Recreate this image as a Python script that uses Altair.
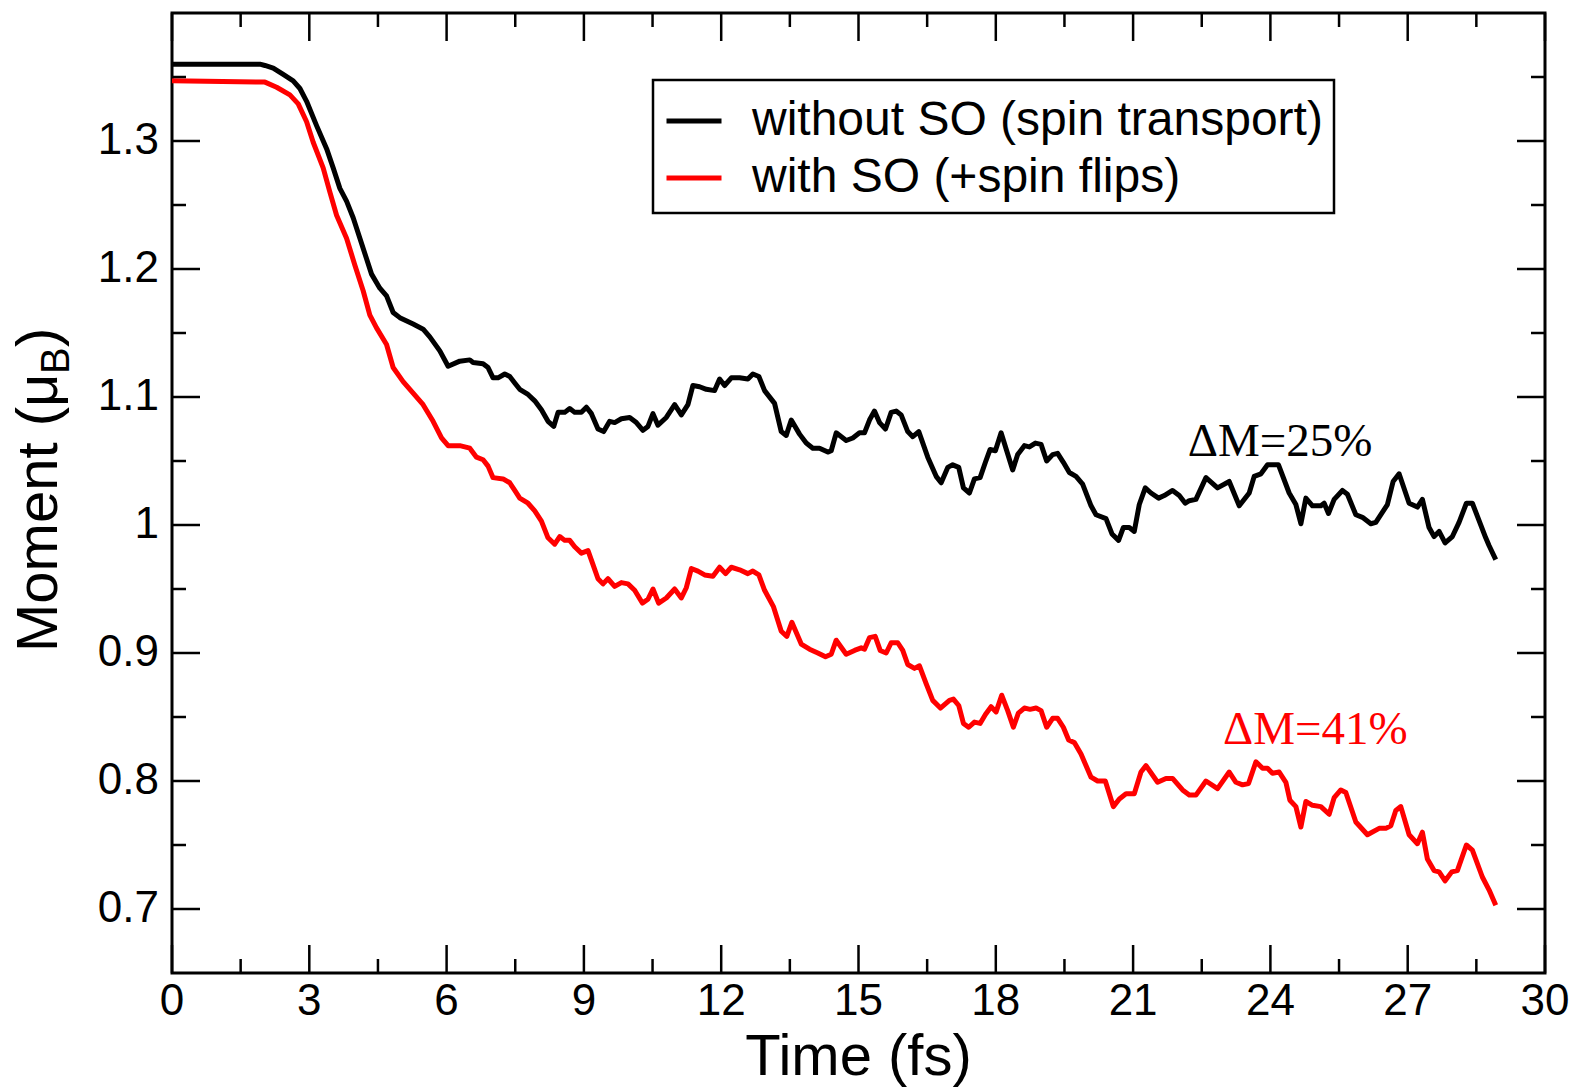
import altair as alt
import pandas as pd

series_names = ["without SO (spin transport)", "with SO (+spin flips)"]
series_colors = ["#000000", "#ff0000"]

black_t = [0, 1.921, 2.031, 2.212, 2.430, 2.648, 2.795, 2.941, 3.159, 3.378,
           3.522, 3.668, 3.814, 3.959, 4.105, 4.251, 4.360, 4.541, 4.688, 4.832,
           4.978, 5.269, 5.487, 5.633, 5.852, 6.033, 6.288, 6.507, 6.579, 6.797,
           6.906, 7.015, 7.124, 7.271, 7.380, 7.489, 7.598, 7.779, 7.926, 8.072,
           8.216, 8.341, 8.435, 8.581, 8.690, 8.799, 8.945, 9.055, 9.164, 9.308,
           9.432, 9.563, 9.672, 9.819, 10.000, 10.146, 10.290, 10.400, 10.509, 10.618,
           10.801, 10.983, 11.129, 11.273, 11.382, 11.528, 11.675, 11.856, 11.965, 12.074,
           12.221, 12.402, 12.583, 12.692, 12.823, 12.948, 13.166, 13.312, 13.421, 13.531,
           13.712, 13.858, 14.002, 14.148, 14.330, 14.404, 14.513, 14.731, 14.876, 15.022,
           15.131, 15.240, 15.349, 15.459, 15.590, 15.714, 15.823, 15.932, 16.076, 16.186,
           16.317, 16.513, 16.697, 16.806, 16.950, 17.059, 17.190, 17.293, 17.424, 17.533,
           17.657, 17.773, 17.876, 17.991, 18.116, 18.238, 18.369, 18.478, 18.624, 18.734,
           18.865, 18.989, 19.111, 19.242, 19.351, 19.476, 19.607, 19.753, 19.897, 20.081,
           20.190, 20.408, 20.539, 20.683, 20.786, 20.917, 21.026, 21.135, 21.266, 21.391,
           21.557, 21.681, 21.862, 22.009, 22.140, 22.227, 22.373, 22.592, 22.845, 23.100,
           23.319, 23.537, 23.646, 23.793, 23.937, 24.177, 24.410, 24.557, 24.666, 24.775,
           24.919, 25.103, 25.175, 25.269, 25.393, 25.574, 25.683, 25.867, 26.011, 26.194,
           26.303, 26.557, 26.681, 26.812, 27.031, 27.212, 27.321, 27.467, 27.576, 27.686,
           27.817, 27.976, 28.122, 28.282, 28.413, 28.705, 28.777, 28.924]
black_m = [1.360, 1.360, 1.359, 1.357, 1.352, 1.347, 1.341, 1.331, 1.312, 1.294,
           1.279, 1.263, 1.253, 1.240, 1.224, 1.208, 1.196, 1.185, 1.179, 1.166,
           1.162, 1.157, 1.153, 1.147, 1.136, 1.124, 1.128, 1.129, 1.127, 1.126,
           1.123, 1.115, 1.115, 1.118, 1.116, 1.111, 1.106, 1.102, 1.097, 1.090,
           1.081, 1.077, 1.088, 1.088, 1.091, 1.088, 1.088, 1.092, 1.087, 1.075,
           1.073, 1.081, 1.080, 1.083, 1.084, 1.080, 1.074, 1.077, 1.087, 1.078,
           1.084, 1.094, 1.086, 1.094, 1.109, 1.108, 1.106, 1.105, 1.114, 1.109,
           1.115, 1.115, 1.114, 1.118, 1.116, 1.105, 1.095, 1.073, 1.070, 1.082,
           1.071, 1.064, 1.060, 1.060, 1.057, 1.058, 1.072, 1.066, 1.068, 1.072,
           1.072, 1.082, 1.089, 1.080, 1.075, 1.088, 1.089, 1.086, 1.073, 1.069,
           1.073, 1.053, 1.038, 1.033, 1.045, 1.047, 1.045, 1.029, 1.025, 1.036,
           1.037, 1.049, 1.059, 1.058, 1.072, 1.058, 1.043, 1.055, 1.062, 1.061,
           1.064, 1.063, 1.050, 1.055, 1.056, 1.049, 1.041, 1.038, 1.032, 1.015,
           1.008, 1.005, 0.993, 0.988, 0.998, 0.998, 0.995, 1.016, 1.029, 1.025,
           1.021, 1.023, 1.027, 1.023, 1.017, 1.019, 1.020, 1.037, 1.029, 1.034,
           1.015, 1.025, 1.038, 1.040, 1.047, 1.047, 1.025, 1.016, 1.001, 1.021,
           1.015, 1.015, 1.017, 1.009, 1.020, 1.027, 1.024, 1.008, 1.006, 1.001,
           1.002, 1.016, 1.034, 1.040, 1.017, 1.014, 1.020, 0.998, 0.991, 0.995,
           0.986, 0.991, 1.002, 1.017, 1.017, 0.990, 0.984, 0.973]

red_t = [0, 2.031, 2.286, 2.576, 2.758, 2.941, 3.085, 3.303, 3.450, 3.596,
         3.814, 3.996, 4.177, 4.323, 4.469, 4.688, 4.832, 5.050, 5.269, 5.487,
         5.705, 5.889, 6.033, 6.288, 6.507, 6.653, 6.797, 6.906, 7.015, 7.234,
         7.380, 7.489, 7.598, 7.779, 7.926, 8.072, 8.216, 8.362, 8.472, 8.581,
         8.690, 8.799, 8.945, 9.090, 9.199, 9.308, 9.417, 9.526, 9.672, 9.819,
         9.963, 10.109, 10.277, 10.400, 10.509, 10.633, 10.801, 10.983, 11.129, 11.238,
         11.347, 11.491, 11.638, 11.819, 11.965, 12.096, 12.221, 12.402, 12.583, 12.692,
         12.823, 12.948, 13.144, 13.312, 13.434, 13.544, 13.749, 13.930, 14.111, 14.279,
         14.404, 14.513, 14.731, 14.913, 15.059, 15.131, 15.240, 15.365, 15.474, 15.605,
         15.714, 15.858, 15.967, 16.076, 16.223, 16.332, 16.478, 16.622, 16.790, 16.987,
         17.074, 17.190, 17.293, 17.408, 17.533, 17.657, 17.773, 17.897, 18.007, 18.129,
         18.260, 18.384, 18.493, 18.624, 18.749, 18.880, 18.989, 19.111, 19.242, 19.351,
         19.476, 19.592, 19.716, 19.862, 20.081, 20.225, 20.393, 20.568, 20.699, 20.845,
         21.026, 21.172, 21.282, 21.535, 21.718, 21.862, 22.081, 22.227, 22.373, 22.592,
         22.845, 23.100, 23.247, 23.391, 23.522, 23.684, 23.828, 23.937, 24.046, 24.192,
         24.338, 24.426, 24.557, 24.666, 24.775, 24.919, 25.103, 25.284, 25.393, 25.539,
         25.648, 25.867, 26.120, 26.376, 26.522, 26.631, 26.740, 26.849, 27.031, 27.212,
         27.321, 27.430, 27.576, 27.686, 27.817, 27.963, 28.085, 28.282, 28.413, 28.631,
         28.777, 28.924]
red_m = [1.347, 1.346, 1.342, 1.336, 1.329, 1.315, 1.299, 1.279, 1.260, 1.242,
         1.224, 1.203, 1.183, 1.164, 1.154, 1.141, 1.123, 1.112, 1.103, 1.094,
         1.081, 1.068, 1.062, 1.062, 1.060, 1.053, 1.051, 1.046, 1.037, 1.036,
         1.033, 1.027, 1.021, 1.017, 1.011, 1.003, 0.990, 0.985, 0.991, 0.988,
         0.988, 0.983, 0.978, 0.980, 0.969, 0.958, 0.954, 0.958, 0.952, 0.955,
         0.954, 0.949, 0.939, 0.942, 0.950, 0.939, 0.943, 0.950, 0.943, 0.951,
         0.966, 0.964, 0.961, 0.960, 0.967, 0.962, 0.967, 0.965, 0.962, 0.964,
         0.961, 0.949, 0.936, 0.917, 0.913, 0.924, 0.907, 0.903, 0.900, 0.897,
         0.899, 0.910, 0.899, 0.902, 0.904, 0.903, 0.912, 0.913, 0.902, 0.900,
         0.908, 0.908, 0.902, 0.891, 0.888, 0.890, 0.876, 0.863, 0.857, 0.863,
         0.864, 0.859, 0.845, 0.842, 0.846, 0.845, 0.852, 0.858, 0.854, 0.867,
         0.855, 0.842, 0.853, 0.857, 0.856, 0.857, 0.855, 0.842, 0.849, 0.849,
         0.842, 0.832, 0.830, 0.821, 0.803, 0.800, 0.800, 0.780, 0.786, 0.790,
         0.790, 0.807, 0.812, 0.799, 0.802, 0.802, 0.793, 0.789, 0.789, 0.800,
         0.794, 0.807, 0.799, 0.797, 0.798, 0.815, 0.810, 0.810, 0.806, 0.807,
         0.799, 0.785, 0.780, 0.764, 0.784, 0.781, 0.780, 0.774, 0.787, 0.793,
         0.791, 0.768, 0.758, 0.763, 0.763, 0.765, 0.777, 0.780, 0.758, 0.751,
         0.760, 0.739, 0.730, 0.729, 0.722, 0.729, 0.730, 0.750, 0.746, 0.725,
         0.715, 0.703]

x_major = [0, 3, 6, 9, 12, 15, 18, 21, 24, 27, 30]
x_labels = ["0", "3", "6", "9", "12", "15", "18", "21", "24", "27", "30"]
x_minor = [1.5, 4.5, 7.5, 10.5, 13.5, 16.5, 19.5, 22.5, 25.5, 28.5]
y_major = [0.7, 0.8, 0.9, 1.0, 1.1, 1.2, 1.3]
y_labels = ["0.7", "0.8", "0.9", "1", "1.1", "1.2", "1.3"]
y_minor = [0.75, 0.85, 0.95, 1.05, 1.15, 1.25, 1.35]

x_title = "Time (fs)"
y_title_parts = ["Moment (μ", "B", ")"]

ann_text = ["ΔM=25%", "ΔM=41%"]
ann_t = [24.21, 24.98]
ann_m = [1.054, 0.829]
ann_color = ["#000000", "#ff0000"]

assert len(black_t) == len(black_m)
assert len(red_t) == len(red_m)

W, H = 1373, 960
MAJ, MIN = 28, 14
SANS = "Liberation Sans"
SERIF = "Liberation Serif"

df = pd.concat([
    pd.DataFrame({"t": black_t, "m": black_m, "series": series_names[0]}),
    pd.DataFrame({"t": red_t, "m": red_m, "series": series_names[1]}),
])

xs = alt.Scale(domain=[0, 30], nice=False, zero=False)
ys = alt.Scale(domain=[0.65, 1.4], nice=False, zero=False)

lines = alt.Chart(df).mark_line(strokeWidth=5, strokeJoin="round").encode(
    x=alt.X("t:Q", scale=xs, axis=None),
    y=alt.Y("m:Q", scale=ys, axis=None),
    color=alt.Color("series:N", sort=series_names,
                    scale=alt.Scale(domain=series_names, range=series_colors),
                    legend=alt.Legend(
                        orient="none", legendX=481, legendY=67, title=None,
                        symbolType="stroke", symbolSize=3025, symbolStrokeWidth=5,
                        labelFontSize=48, labelFont=SANS, labelOffset=28,
                        rowPadding=3, padding=11, strokeColor="black",
                        labelLimit=1000, labelColor="black")),
)


def xticks(vals, y0, y1):
    return alt.Chart(pd.DataFrame({"t": vals})).mark_rule(
        color="black", strokeWidth=2.5).encode(
        x=alt.X("t:Q", scale=xs, axis=None), y=alt.value(y0), y2=alt.value(y1))


def yticks(vals, x0, x1):
    return alt.Chart(pd.DataFrame({"m": vals})).mark_rule(
        color="black", strokeWidth=2.5).encode(
        y=alt.Y("m:Q", scale=ys, axis=None), x=alt.value(x0), x2=alt.value(x1))


ticks = [
    xticks(x_major, H, H - MAJ), xticks(x_minor, H, H - MIN),
    xticks(x_major, 0, MAJ), xticks(x_minor, 0, MIN),
    yticks(y_major, 0, MAJ), yticks(y_minor, 0, MIN),
    yticks(y_major, W, W - MAJ), yticks(y_minor, W, W - MIN),
]

xlab = alt.Chart(pd.DataFrame({"t": x_major, "lab": x_labels})).mark_text(
    font=SANS, fontSize=44, align="center", baseline="top", color="black").encode(
    x=alt.X("t:Q", scale=xs, axis=None), y=alt.value(H + 7), text="lab:N")

ylab = alt.Chart(pd.DataFrame({"m": y_major, "lab": y_labels})).mark_text(
    font=SANS, fontSize=44, align="right", baseline="middle", color="black").encode(
    y=alt.Y("m:Q", scale=ys, axis=None), x=alt.value(-13), text="lab:N")

one = pd.DataFrame({"k": [0]})
xtitle = alt.Chart(one).mark_text(
    text=x_title, align="center", baseline="alphabetic",
    font=SANS, fontSize=58, color="black").encode(
    x=alt.value(W / 2), y=alt.value(1062))

ann = alt.Chart(pd.DataFrame({"t": ann_t, "m": ann_m, "txt": ann_text,
                              "c": ann_color})).mark_text(
    font=SERIF, fontSize=47, align="center", baseline="alphabetic").encode(
    x=alt.X("t:Q", scale=xs, axis=None), y=alt.Y("m:Q", scale=ys, axis=None),
    text="txt:N", color=alt.Color("c:N", scale=None))

ytitle_main = alt.Chart(one).mark_text(
    text=y_title_parts[0], angle=270, align="left", baseline="alphabetic",
    font=SANS, fontSize=58, color="black").encode(
    x=alt.value(-115), y=alt.value(639))
ytitle_sub = alt.Chart(one).mark_text(
    text=y_title_parts[1], angle=270, align="left", baseline="alphabetic",
    font=SANS, fontSize=40, color="black").encode(
    x=alt.value(-103), y=alt.value(361))
ytitle_end = alt.Chart(one).mark_text(
    text=y_title_parts[2], angle=270, align="left", baseline="alphabetic",
    font=SANS, fontSize=58, color="black").encode(
    x=alt.value(-115), y=alt.value(334))

chart = alt.layer(lines, *ticks, xlab, ylab, xtitle, ann,
                  ytitle_main, ytitle_sub, ytitle_end).properties(
    width=W, height=H,
    autosize=alt.AutoSizeParams(type="none"),
    padding={"left": 172, "top": 13, "right": 33, "bottom": 118},
    background="white",
).configure_view(
    stroke="black", strokeWidth=3
).configure_legend(
    strokeWidth=2.5
)

chart.save("out.html", embed_options={"renderer": "svg", "actions": False})
